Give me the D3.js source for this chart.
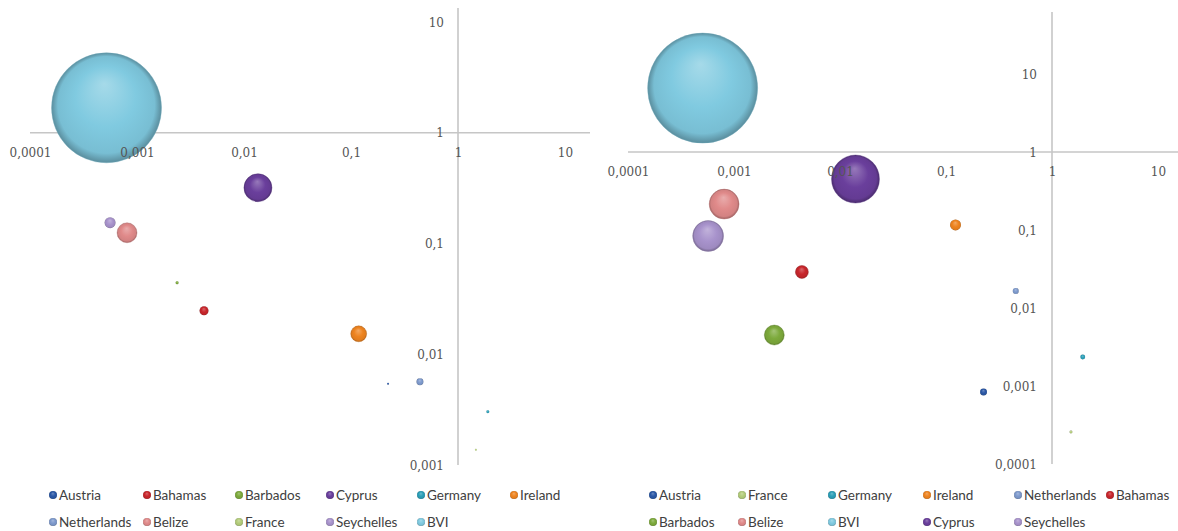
<!DOCTYPE html>
<html>
<head>
<meta charset="utf-8">
<script src="https://cdn.jsdelivr.net/npm/d3@7"></script>
<style>
  html, body { margin: 0; padding: 0; background: #ffffff; }
  svg { display: block; }
</style>
</head>
<body>
<svg id="chart" width="1178" height="531"></svg>
<script>
// ---------------- DATA ----------------
const countryColors = {
  "Austria": "#2B58A6",
  "Bahamas": "#C8262C",
  "Barbados": "#7DAA3C",
  "Cyprus": "#6A3F9C",
  "Germany": "#2B9FB8",
  "Ireland": "#EE8420",
  "Netherlands": "#7E9ACD",
  "Belize": "#E08A8A",
  "France": "#B3CC7A",
  "Seychelles": "#A893CC",
  "BVI": "#80CAE0"
};

// Left chart
const leftCountries = ["Austria", "Bahamas", "Barbados", "Cyprus", "Germany", "Ireland", "Netherlands", "Belize", "France", "Seychelles", "BVI"];
const leftX    = [0.222, 0.00423, 0.00237, 0.0135, 1.9,    0.118,  0.441,   0.000807, 1.47,    0.00056, 0.000519];
const leftY    = [0.00542, 0.0247, 0.0442, 0.319, 0.00303, 0.0153, 0.00565, 0.125,    0.00137, 0.154,   1.68];
const leftSize = [0.033, 0.67, 0.074, 6.5, 0.074, 2.1, 0.4, 3.3, 0.033, 1.0, 100];

const leftXTicks = [0.0001, 0.001, 0.01, 0.1, 1, 10];
const leftXTickLabels = ["0,0001", "0,001", "0,01", "0,1", "1", "10"];
const leftYTicks = [0.001, 0.01, 0.1, 1, 10];
const leftYTickLabels = ["0,001", "0,01", "0,1", "1", "10"];

// Right chart
const rightCountries = ["Austria", "France", "Germany", "Ireland", "Netherlands", "Bahamas", "Barbados", "Belize", "BVI", "Cyprus", "Seychelles"];
const rightX    = [0.226,   1.51,     1.95,    0.123, 0.455,  0.00437, 0.0024, 0.000807, 0.000506, 0.014, 0.00057];
const rightY    = [0.00084, 0.000257, 0.00235, 0.116, 0.0165, 0.029,   0.0045, 0.215,    6.6,      0.45,  0.0838];
const rightSize = [0.4, 0.07, 0.2, 1.0, 0.3, 1.4, 3.3, 7.4, 100, 19, 7.9];

const rightXTicks = [0.0001, 0.001, 0.01, 0.1, 1, 10];
const rightXTickLabels = ["0,0001", "0,001", "0,01", "0,1", "1", "10"];
const rightYTicks = [0.0001, 0.001, 0.01, 0.1, 1, 10];
const rightYTickLabels = ["0,0001", "0,001", "0,01", "0,1", "1", "10"];

// ---------------- DRAWING ----------------
const svg = d3.select("#chart");
const defs = svg.append("defs");

function makeGradient(id, base) {
  const g = defs.append("radialGradient")
    .attr("id", id)
    .attr("cx", "50%").attr("cy", "50%").attr("r", "50%")
    .attr("fx", "48%").attr("fy", "28%");
  const light = d3.interpolateRgb(base, "#ffffff")(0.3);
  const dark1 = d3.interpolateRgb(base, "#000000")(0.06);
  const dark2 = d3.interpolateRgb(base, "#000000")(0.3);
  g.append("stop").attr("offset", "0%").attr("stop-color", light);
  g.append("stop").attr("offset", "55%").attr("stop-color", base);
  g.append("stop").attr("offset", "88%").attr("stop-color", dark1);
  g.append("stop").attr("offset", "100%").attr("stop-color", dark2);
}
Object.keys(countryColors).forEach((c, i) => makeGradient("grad" + i, countryColors[c]));
const gradId = c => "url(#grad" + Object.keys(countryColors).indexOf(c) + ")";

const tickFont = "'DejaVu Serif', 'Liberation Serif', serif";
const legendFont = "Lato, 'Open Sans', sans-serif";

function drawChart(cfg) {
  const x = d3.scaleLog().domain([cfg.xTicks[0], cfg.xTicks[cfg.xTicks.length - 1]]).range(cfg.xRange);
  const y = d3.scaleLog().domain([cfg.yTicks[0], cfg.yTicks[cfg.yTicks.length - 1]]).range(cfg.yRange);
  const r = d3.scaleSqrt().domain([0, d3.max(cfg.size)]).range([0, cfg.maxR]);
  const g = svg.append("g");

  // axis lines (behind bubbles)
  g.append("line")
    .attr("x1", x(cfg.xTicks[0])).attr("x2", cfg.hEnd)
    .attr("y1", y(1)).attr("y2", y(1))
    .attr("stroke", "#c6c6c6").attr("stroke-width", 1.6);
  g.append("line")
    .attr("x1", x(1)).attr("x2", x(1))
    .attr("y1", cfg.vTop).attr("y2", y(cfg.yTicks[0]))
    .attr("stroke", "#c6c6c6").attr("stroke-width", 1.6);

  // bubbles
  const data = cfg.countries.map((c, i) => ({ c, x: cfg.x[i], y: cfg.y[i], s: cfg.size[i] }));
  g.append("g").selectAll("circle")
    .data(data)
    .join("circle")
    .attr("cx", d => x(d.x))
    .attr("cy", d => y(d.y))
    .attr("r", d => Math.max(1, r(d.s)))
    .attr("fill", d => gradId(d.c))
    .attr("stroke", d => d3.interpolateRgb(countryColors[d.c], "#000")(0.15))
    .attr("stroke-opacity", 0.5)
    .attr("stroke-width", d => r(d.s) > 6 ? 0.8 : 0);

  // x axis labels (on top of bubbles)
  const xAxis = d3.axisBottom(x)
    .tickValues(cfg.xTicks)
    .tickSize(0)
    .tickFormat((d, i) => cfg.xLabels[i]);
  const gx = g.append("g").attr("transform", `translate(0,${y(1)})`).call(xAxis);
  gx.select(".domain").remove();
  gx.selectAll("text")
    .attr("y", 20).attr("dy", "0.35em")
    .attr("font-family", tickFont).attr("font-size", 12)
    .attr("fill", "#555555");

  // y axis labels
  const yAxis = d3.axisLeft(y)
    .tickValues(cfg.yTicks)
    .tickSize(0)
    .tickFormat((d, i) => cfg.yLabels[i]);
  const gy = g.append("g").attr("transform", `translate(${x(1)},0)`).call(yAxis);
  gy.select(".domain").remove();
  gy.selectAll("text")
    .attr("x", -cfg.yLabelOffset).attr("dy", "0.35em")
    .attr("font-family", tickFont).attr("font-size", 12)
    .attr("fill", "#555555");

  // legend
  const lg = g.append("g");
  const items = lg.selectAll("g")
    .data(cfg.countries)
    .join("g")
    .attr("transform", (d, i) => {
      const row = i < 6 ? 0 : 1;
      const col = i < 6 ? i : i - 6;
      return `translate(${cfg.legendX[col]},${cfg.legendY[row]})`;
    });
  items.append("circle")
    .attr("r", 4)
    .attr("fill", d => gradId(d));
  items.append("text")
    .attr("x", 6).attr("dy", "0.35em")
    .attr("font-family", legendFont).attr("font-size", 13.5)
    .attr("fill", "#404040")
    .text(d => d);
}

drawChart({
  countries: leftCountries, x: leftX, y: leftY, size: leftSize,
  xTicks: leftXTicks, xLabels: leftXTickLabels,
  yTicks: leftYTicks, yLabels: leftYTickLabels,
  xRange: [30, 565], yRange: [465, 22],
  hEnd: 590, vTop: 8, maxR: 55, yLabelOffset: 14,
  legendX: [53, 147, 239, 330, 421, 514], legendY: [495, 522]
});

drawChart({
  countries: rightCountries, x: rightX, y: rightY, size: rightSize,
  xTicks: rightXTicks, xLabels: rightXTickLabels,
  yTicks: rightYTicks, yLabels: rightYTickLabels,
  xRange: [628, 1158], yRange: [464, 74],
  hEnd: 1178, vTop: 12, maxR: 55, yLabelOffset: 15,
  legendX: [653, 742, 832, 927, 1018, 1110], legendY: [495, 522]
});
</script>
</body>
</html>
